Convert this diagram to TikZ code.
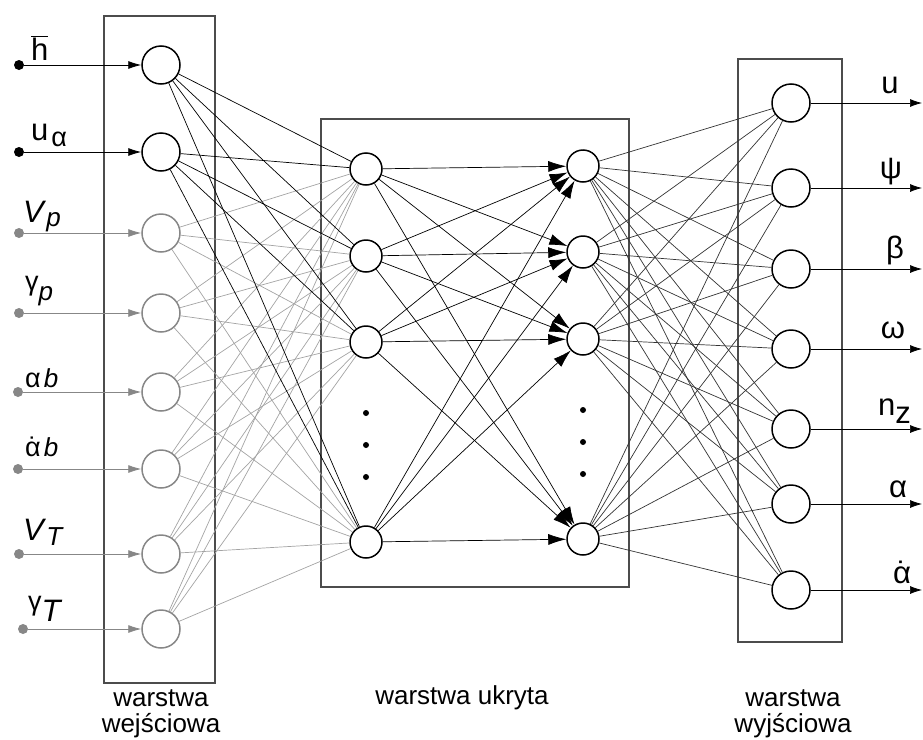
\documentclass[tikz,border=0pt]{standalone}
\usepackage{fontspec}
\setmainfont{Liberation Sans}
\usetikzlibrary{arrows.meta}

\definecolor{inputgray}{HTML}{878787}
\definecolor{linkgray}{HTML}{A3A3A3}

\newcommand{\sgr}[1]{{\fontsize{27}{27}\selectfont #1}}
\newcommand{\idx}[1]{{\fontsize{26}{26}\selectfont\itshape #1}}
\newcommand{\adot}{\accent"02D9 α}

\begin{document}
\begin{tikzpicture}[x=1pt,y=-1pt,>=latex]
    \tikzstyle{every node}=[font=\fontsize{31}{33}\selectfont]
    \tikzstyle{neuron}=[circle,draw,line width=1.5pt,minimum size=38pt,inner sep=0pt]
    \tikzstyle{hidden}=[neuron,minimum size=32pt]
    \tikzstyle{source}=[circle,fill,inner sep=0pt,minimum size=10pt]
    \tikzstyle{layerbox}=[draw=black!70,line width=1.1pt]
    \tikzstyle{link}=[line width=0.7pt]
    \tikzstyle{feed}=[line width=0.8pt,-{Latex[length=13pt,width=8pt]}]
    \tikzstyle{weight}=[link,-{Latex[length=18pt,width=11pt]}]
    \tikzstyle{label}=[anchor=base west,inner sep=0pt]

    \useasboundingbox (0,0) rectangle (923,739);

    % layer boxes
    \draw[layerbox] (104,16) rectangle (215,683);
    \draw[layerbox] (321,119) rectangle (629,587);
    \draw[layerbox] (738,59) rectangle (842,642);

    % input layer
    \foreach \y/\c/\dx [count=\i] in {65/black/19,152/black/19,233/inputgray/19,
        313/inputgray/19,392/inputgray/18,469/inputgray/18,554/inputgray/19,629/inputgray/23}
    {
        \node[neuron,draw=\c] (in\i) at (161,\y) {};
        \node[source,fill=\c] (src\i) at (\dx,\y) {};
        \draw[feed,draw=\c,fill=\c] (src\i) -- (in\i);
    }

    \node[label] (lab1) at (31,60) {\(\overline{\mbox{h}}\)};
    \node[label] (lab2) at (31,140) {u\hspace{3pt}\raisebox{-6pt}{\sgr{α}}};
    \node[label] (lab3) at (23,222) {\textit{V}\raisebox{-4pt}{\idx{p}}};
    \node[label] (lab4) at (25,300) {\raisebox{10pt}{\sgr{γ}}\idx{p}};
    \node[label] (lab5) at (25,387) {\sgr{α}\hspace{3pt}\idx{b}};
    \node[label] (lab6) at (25,456) {\sgr{\adot}\hspace{3pt}\idx{b}};
    \node[label] (lab7) at (23,540) {\textit{V}\raisebox{-5pt}{\idx{T}}};
    \node[label] (lab8) at (28,621) {\raisebox{11pt}{\sgr{γ}}\textit{T}};

    % hidden layer
    \foreach \y [count=\i] in {169,256,342,542}
        \node[hidden] (hl\i) at (366,\y) {};
    \foreach \y [count=\i] in {166,252,339,539}
        \node[hidden] (hr\i) at (583,\y) {};
    \foreach \y in {413,445,477} \fill (366,\y) circle (3);
    \foreach \y in {410,442,474} \fill (583,\y) circle (3);

    % output layer
    \foreach \y [count=\i] in {103,188,269,349,429,504,590}
    {
        \node[neuron] (out\i) at (791,\y) {};
        \coordinate (tip\i) at (922,\y);
        \draw[link,-{Latex[length=12pt,width=8pt]}] (out\i) -- (tip\i);
    }

    \node[anchor=base] (res1) at (890,93) {u};
    \node[anchor=base] (res2) at (891,178) {ψ};
    \node[anchor=base] (res3) at (895,258) {β};
    \node[anchor=base] (res4) at (893,338) {ω};
    \node[label] (res5) at (878,415) {n\raisebox{-8pt}{z}};
    \node[anchor=base] (res6) at (898,497) {α};
    \node[anchor=base,inner sep=0pt] (res7) at (902,583) {\adot};

    % connections
    \foreach \a in {3,...,8}
        \foreach \b in {1,...,4}
            \draw[link,draw=linkgray] (in\a) -- (hl\b);
    \foreach \a in {1,2}
        \foreach \b in {1,...,4}
            \draw[link] (in\a) -- (hl\b);
    \foreach \a in {1,...,4}
        \foreach \b in {1,...,4}
            \draw[weight] (hl\a) -- (hr\b);
    \foreach \a in {1,...,4}
        \foreach \b in {1,...,7}
            \draw[link,draw=black!80] (hr\a) -- (out\b);

    % layer names
    \node[anchor=north,align=center,inner sep=0pt,font=\fontsize{26}{26}\selectfont] (namein) at (161,689) {warstwa\\wejściowa};
    \node[anchor=base,font=\fontsize{26}{26}\selectfont] (namehid) at (462,704) {warstwa ukryta};
    \node[anchor=north,align=center,inner sep=0pt,font=\fontsize{26}{26}\selectfont] (nameout) at (793,689) {warstwa\\wyjściowa};
\end{tikzpicture}
\end{document}
